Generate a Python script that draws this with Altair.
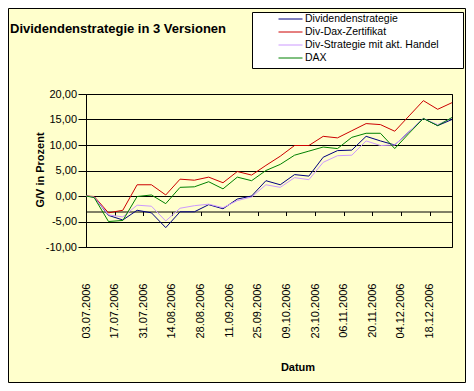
import altair as alt
import pandas as pd

FONT = "Liberation Sans"

dates = ["2006-07-03", "2006-07-07", "2006-07-14", "2006-07-21", "2006-07-28",
         "2006-08-04", "2006-08-11", "2006-08-18", "2006-08-25", "2006-09-01",
         "2006-09-08", "2006-09-15", "2006-09-22", "2006-09-29", "2006-10-06",
         "2006-10-13", "2006-10-20", "2006-10-27", "2006-11-03", "2006-11-10",
         "2006-11-17", "2006-11-24", "2006-12-01", "2006-12-08", "2006-12-15",
         "2006-12-22", "2006-12-29"]

dividendenstrategie = [0, -0.2, -3.8, -4.7, -2.8, -3.3, -6.2, -3.1, -3.1, -1.7,
                       -2.5, -0.6, 0.0, 3.0, 2.2, 4.2, 3.9, 7.6, 8.9, 9.0,
                       11.7, 10.8, 10.0, 12.6, 15.2, 13.8, 15.0]
div_dax_zertifikat = [0, -0.1, -3.3, -2.8, 2.2, 2.2, 0.2, 3.3, 3.1, 3.7,
                      2.6, 4.8, 4.1, 6.0, 7.8, 9.9, 9.9, 11.7, 11.4, 12.8,
                      14.2, 14.0, 12.7, 15.7, 18.7, 17.0, 18.3]
div_strategie_handel = [0, -0.2, -3.7, -4.1, -1.8, -2.0, -4.9, -2.4, -1.9, -1.6,
                        -2.3, -0.9, -0.2, 2.2, 1.7, 3.6, 3.2, 6.6, 7.9, 8.0,
                        10.8, 9.9, 10.0, 12.6, 15.2, 14.0, 15.3]
dax = [0, -0.3, -5.0, -4.8, -0.1, 0.2, -1.5, 1.7, 1.8, 2.8,
       1.4, 3.7, 3.0, 5.0, 6.2, 8.0, 8.8, 9.6, 9.3, 11.5,
       12.3, 12.3, 9.3, 12.3, 15.2, 13.8, 15.4]

series_names = ["Dividendenstrategie", "Div-Dax-Zertifikat",
                "Div-Strategie mit akt. Handel", "DAX"]
series_colors = ["#000080", "#CC0000", "#CC99FF", "#008000"]
draw_order = [4, 2, 3, 1]

tick_dates = ["2006-07-03", "2006-07-17", "2006-07-31", "2006-08-14",
              "2006-08-28", "2006-09-11", "2006-09-25", "2006-10-09",
              "2006-10-23", "2006-11-06", "2006-11-20", "2006-12-04",
              "2006-12-18"]
y_ticks = [-10, -5, 0, 5, 10, 15, 20]

chart_title = "Dividendenstrategie in 3 Versionen"
x_title = "Datum"
y_title = "G/V in Prozent"


def dt(s):
    y, m, d = (int(p) for p in s.split("-"))
    return alt.DateTime(year=y, month=m, date=d, utc=True)


rows = []
for name, vals, o in zip(series_names,
                         [dividendenstrategie, div_dax_zertifikat,
                          div_strategie_handel, dax], draw_order):
    for d, v in zip(dates, vals):
        rows.append({"Datum": d, "Serie": name, "Wert": v, "ord": o})
df = pd.DataFrame(rows)

W, H = 366, 153

lines = alt.Chart(df).mark_line(strokeWidth=1).encode(
    x=alt.X("Datum:T",
            scale=alt.Scale(type="utc", domain=[dt(dates[0]), dt(dates[-1])], nice=False),
            axis=alt.Axis(values=[dt(s) for s in tick_dates], format="%d.%m.%Y",
                          labelAngle=270, labelFont=FONT, labelFontSize=11,
                          labelColor="black", labelPadding=67.5, labelFlush=False,
                          labelOverlap=False, tickSize=4, tickColor="black",
                          domainColor="black", offset=-35.5, grid=False,
                          title=x_title, titleFont=FONT, titleFontSize=11,
                          titleFontWeight="bold", titleColor="black",
                          titleX=211.5, titleY=159, titleAlign="center",
                          titleBaseline="alphabetic")),
    y=alt.Y("Wert:Q",
            scale=alt.Scale(domain=[-10, 20], nice=False, zero=False),
            axis=alt.Axis(values=y_ticks,
                          labelExpr="(datum.value < 0 ? '-' : '') + replace(format(abs(datum.value), '.2f'), '.', ',')",
                          labelFont=FONT, labelFontSize=11, labelColor="black",
                          labelPadding=1.5, labelFlush=False, tickSize=8,
                          tickColor="black", domainColor="black", grid=True,
                          gridColor="black", gridOpacity=1, gridWidth=1,
                          title=y_title, titleFont=FONT, titleFontSize=11,
                          titleFontWeight="bold", titleColor="black",
                          titleAngle=270, titleX=-43, titleY=75.5,
                          titleAlign="center", titleBaseline="alphabetic")),
    color=alt.Color("Serie:N",
                    scale=alt.Scale(domain=series_names, range=series_colors),
                    legend=alt.Legend(title=None, orient="none", legendX=192,
                                      legendY=-81.5, symbolType="stroke",
                                      symbolSize=576, symbolStrokeWidth=1,
                                      clipHeight=13, rowPadding=0, padding=0,
                                      labelFont=FONT, labelFontSize=10.5,
                                      labelColor="black", labelOffset=2,
                                      labelLimit=300)),
    order=alt.Order("ord:Q"),
)

one = pd.DataFrame({"t": [chart_title]})

frame = alt.Chart(one).mark_rect(fillOpacity=0, stroke="black", strokeWidth=1).encode(
    x=alt.value(-77.5), x2=alt.value(379.5), y=alt.value(-85.5), y2=alt.value(288.5))

legend_box = alt.Chart(one).mark_rect(fill="white", stroke="black", strokeWidth=1).encode(
    x=alt.value(166.5), x2=alt.value(377.5), y=alt.value(-81.5), y2=alt.value(-25.5))

title = alt.Chart(one).mark_text(align="left", baseline="alphabetic", font=FONT,
                                 fontSize=13, fontWeight="bold", color="black").encode(
    x=alt.value(-76), y=alt.value(-61.5), text="t:N")

chart = alt.layer(frame, legend_box, lines, title).properties(
    width=W, height=H,
    padding={"left": 78, "top": 86, "right": 14, "bottom": 136},
    autosize=alt.AutoSizeParams(type="none"),
).configure(background="#FFFFCC").configure_view(stroke="black", strokeWidth=1)

chart.save("out.html", embed_options={"renderer": "svg", "actions": False})
